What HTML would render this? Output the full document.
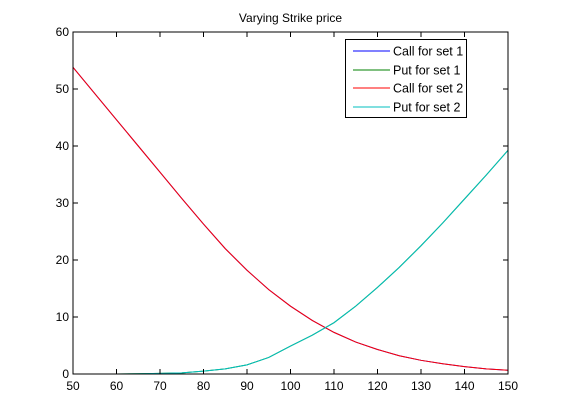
<!DOCTYPE html>
<html><head><meta charset="utf-8"><style>
body{margin:0;background:#fff;}
svg{display:block;font-family:"Liberation Sans",Arial,sans-serif;}
</style></head><body>
<svg id="chart" width="561" height="420">
<rect width="561" height="420" fill="#fff"/>
<text x="290.5" y="22" font-size="12" text-anchor="middle">Varying Strike price</text>
<g id="marks"></g>
<rect x="73" y="32" width="435" height="342" fill="none" stroke="#000" stroke-width="1"/>
<g id="axes"></g>
<g>
<rect x="345.5" y="39.5" width="121" height="78" fill="#fff" stroke="#000"/>
<g font-size="12.5">
<line x1="353" y1="51" x2="390" y2="51" stroke="#0000ff"/>
<text x="393" y="55.5">Call for set 1</text>
<line x1="353" y1="70" x2="390" y2="70" stroke="#008000"/>
<text x="393" y="74.5">Put for set 1</text>
<line x1="353" y1="88" x2="390" y2="88" stroke="#ff0000"/>
<text x="393" y="92.5">Call for set 2</text>
<line x1="353" y1="107" x2="390" y2="107" stroke="#00bfbf"/>
<text x="393" y="111.5">Put for set 2</text>
</g></g>
</svg>
<script>
const strikes=[50,55,60,65,70,75,80,85,90,95,100,105,110,115,120,125,130,135,140,145,150];
const call1=[53.8,49.2,44.6,40.0,35.4,30.8,26.3,22.0,18.2,14.8,11.9,9.4,7.3,5.6,4.3,3.2,2.4,1.8,1.3,0.9,0.65];
const put1=[0,0,0,0.05,0.1,0.2,0.5,0.9,1.6,2.9,4.9,6.8,9.0,11.9,15.2,18.7,22.5,26.5,30.7,34.9,39.25];
const call2=[53.8,49.2,44.6,40.0,35.4,30.8,26.3,22.0,18.2,14.8,11.9,9.4,7.3,5.6,4.3,3.2,2.4,1.8,1.3,0.9,0.65];
const put2=[0,0,0,0.05,0.1,0.2,0.5,0.9,1.6,2.9,4.9,6.8,9.0,11.9,15.2,18.7,22.5,26.5,30.7,34.9,39.25];
const xTicks=[50,60,70,80,90,100,110,120,130,140,150];
const yTicks=[0,10,20,30,40,50,60];
const X0=73,X1=508,Y0=374,Y1=32;
const sx=v=>X0+(v-50)/100*(X1-X0);
const sy=v=>Y0-(v/60)*(Y0-Y1);
const NS='http://www.w3.org/2000/svg';
const marks=document.getElementById('marks'),axes=document.getElementById('axes');
function line(vals,color,name){
  const p=document.createElementNS(NS,'polyline');
  p.setAttribute('points',strikes.map((k,i)=>sx(k)+','+sy(vals[i])).join(' '));
  p.setAttribute('fill','none');p.setAttribute('stroke',color);p.setAttribute('stroke-width','1');
  
  
  marks.appendChild(p);
}
line(call1,'#0000ff','call-set-1-line');
line(put1,'#008000','put-set-1-line');
line(call2,'#ff0000','call-set-2-line');
line(put2,'#00bfbf','put-set-2-line');
function mk(tag,attrs){const e=document.createElementNS(NS,tag);for(const k in attrs)e.setAttribute(k,attrs[k]);axes.appendChild(e);return e;}
xTicks.forEach(v=>{
  const x=sx(v);
  mk('line',{x1:x,y1:Y0,x2:x,y2:Y0-5,stroke:'#000'});
  mk('line',{x1:x,y1:Y1,x2:x,y2:Y1+5,stroke:'#000'});
  const t=mk('text',{x:x,y:Y0+16,'font-size':'12','text-anchor':'middle'});
  t.textContent=v;
  
  
});
yTicks.forEach(v=>{
  const y=sy(v);
  mk('line',{x1:X0,y1:y,x2:X0+5,y2:y,stroke:'#000'});
  mk('line',{x1:X1,y1:y,x2:X1-5,y2:y,stroke:'#000'});
  const t=mk('text',{x:X0-4,y:y+4,'font-size':'12','text-anchor':'end'});
  t.textContent=v;
  
  
});
</script>
</body></html>
